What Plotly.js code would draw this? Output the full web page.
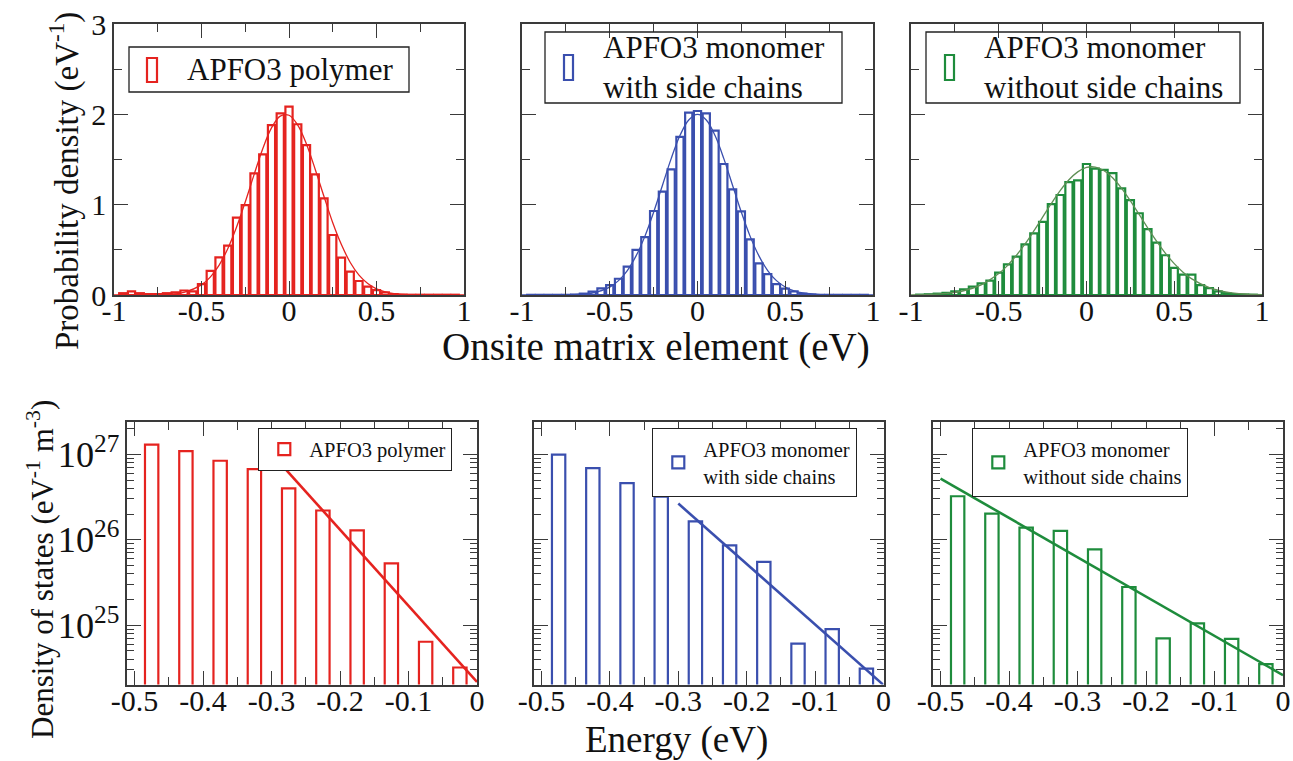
<!DOCTYPE html>
<html>
<head>
<meta charset="utf-8">
<script src="https://cdn.plot.ly/plotly-3.0.1.min.js"></script>
<style>html,body{margin:0;padding:0;background:#fff;}#chart{width:1293px;height:761px;}</style>
</head>
<body>
<div id="chart"></div>
<script>
// ---------- Data ----------
const binCenters = [-0.95,-0.9,-0.85,-0.8,-0.75,-0.7,-0.65,-0.6,-0.55,-0.5,-0.45,-0.4,-0.35,-0.3,-0.25,-0.2,-0.15,-0.1,-0.05,0,0.05,0.1,0.15,0.2,0.25,0.3,0.35,0.4,0.45,0.5,0.55,0.6,0.65,0.7,0.75,0.8,0.85,0.9,0.95];
const polymerHist = [0.02,0.04,0.02,0.01,0.01,0.02,0.03,0.05,0.04,0.12,0.266,0.417,0.546,0.856,0.996,1.347,1.557,1.88,2.01,2.085,1.89,1.66,1.336,1.07,0.664,0.413,0.258,0.155,0.092,0.055,0.03,0.01,0.005,0.003,0.003,0.003,0.003,0.003,0.003];
const withSideHist = [0.002,0.002,0.002,0.002,0.002,0.005,0.015,0.037,0.074,0.11,0.18,0.314,0.50,0.64,0.93,1.144,1.39,1.75,2.02,2.037,2.01,1.82,1.45,1.17,0.925,0.615,0.35,0.23,0.12,0.07,0.04,0.015,0.005,0.002,0.002,0.002,0.002,0.002,0.002];
const withoutSideHist = [0.004,0.008,0.015,0.025,0.04,0.063,0.092,0.129,0.159,0.247,0.34,0.424,0.561,0.683,0.81,1.007,1.107,1.25,1.27,1.45,1.40,1.385,1.35,1.18,1.05,0.905,0.73,0.58,0.44,0.30,0.225,0.225,0.11,0.075,0.04,0.02,0.01,0.005,0.003];

const curveX = [-1,-0.9,-0.8,-0.7,-0.6,-0.5,-0.45,-0.4,-0.35,-0.3,-0.25,-0.2,-0.15,-0.1,-0.05,0,0.05,0.1,0.15,0.2,0.25,0.3,0.35,0.4,0.45,0.5,0.55,0.6,0.7,0.8,0.9,1];
const polymerCurve = [0,0.0002,0.001,0.006,0.03,0.112,0.198,0.329,0.513,0.75,1.03,1.33,1.62,1.85,1.98,1.99,1.88,1.67,1.39,1.09,0.80,0.556,0.36,0.22,0.127,0.068,0.034,0.016,0.003,0,0,0];
const withSideCurve = [0,0,0.0007,0.0044,0.022,0.088,0.159,0.271,0.433,0.649,0.916,1.213,1.51,1.765,1.938,2.0,1.938,1.765,1.51,1.213,0.916,0.649,0.433,0.271,0.159,0.088,0.046,0.022,0.0044,0.0007,0,0];
const withoutSideCurve = [0.0016,0.0058,0.0176,0.047,0.113,0.237,0.327,0.437,0.565,0.709,0.861,1.014,1.155,1.275,1.363,1.412,1.416,1.376,1.295,1.181,1.043,0.892,0.739,0.593,0.461,0.347,0.253,0.179,0.081,0.032,0.011,0.0035];

const energyCenters = [-0.475,-0.425,-0.375,-0.325,-0.275,-0.225,-0.175,-0.125,-0.075,-0.025];
const polymerDos = [1.30e27,1.09e27,8.4e26,6.7e26,4.0e26,2.2e26,1.29e26,5.3e25,6.4e24,3.2e24];
const withSideDos = [9.9e26,6.9e26,4.6e26,3.2e26,1.64e26,8.6e25,5.5e25,6.1e24,9.0e24,3.1e24];
const withoutSideDos = [3.23e26,2.02e26,1.39e26,1.27e26,7.7e25,2.8e25,7.0e24,1.05e25,6.9e24,3.5e24];

const polymerFitX = [-0.3, 0];
const polymerFitY = [1.02e27, 2.17e24];
const withSideFitX = [-0.3, 0];
const withSideFitY = [2.65e26, 2.0e24];
const withoutSideFitX = [-0.5, 0];
const withoutSideFitY = [5.2e26, 2.6e24];

const seriesNames = ['APFO3 polymer', 'APFO3 monomer<br>with side chains', 'APFO3 monomer<br>without side chains'];
const topTickVals = [-1,-0.5,0,0.5,1];
const topTickText = ['-1','-0.5','0','0.5','1'];
const bottomTickVals = [-0.5,-0.4,-0.3,-0.2,-0.1,0];
const bottomTickText = ['-0.5','-0.4','-0.3','-0.2','-0.1','0'];

// ---------- Styling ----------
const RED = '#e5231f', BLUE = '#3a4fae', GREEN = '#1e8c3c';
const CURVE_GREEN = '#5f8f55';
const FONT = '"Liberation Serif", "Times New Roman", serif';
const W = 1293, H = 761;
const px = v => v / W, py = v => 1 - v / H;

const hists = [polymerHist, withSideHist, withoutSideHist];
const curves = [polymerCurve, withSideCurve, withoutSideCurve];
const dos = [polymerDos, withSideDos, withoutSideDos];
const fitsX = [polymerFitX, withSideFitX, withoutSideFitX];
const fitsY = [polymerFitY, withSideFitY, withoutSideFitY];
const colors = [RED, BLUE, GREEN];
const curveColors = [RED, BLUE, CURVE_GREEN];

const traces = [];
for (let i = 0; i < 3; i++) {
  const ax = i === 0 ? '' : String(i + 1);
  traces.push({
    type: 'bar', x: binCenters, y: hists[i], width: 0.041,
    xaxis: 'x' + ax, yaxis: 'y' + ax,
    marker: {color: 'rgba(255,255,255,0)', line: {color: colors[i], width: 2.2}},
    name: seriesNames[i], showlegend: false, hoverinfo: 'x+y'
  });
  traces.push({
    type: 'scatter', mode: 'lines', x: curveX, y: curves[i],
    xaxis: 'x' + ax, yaxis: 'y' + ax,
    line: {color: curveColors[i], width: 1.3, shape: 'spline', smoothing: 1},
    showlegend: false, hoverinfo: 'skip'
  });
}
for (let i = 0; i < 3; i++) {
  const ax = String(i + 4);
  traces.push({
    type: 'bar', x: energyCenters, y: dos[i], width: 0.0195,
    xaxis: 'x' + ax, yaxis: 'y' + ax,
    marker: {color: 'rgba(255,255,255,0)', line: {color: colors[i], width: 2.2}},
    name: seriesNames[i], legend: 'legend' + (i + 4),
    showlegend: true
  });
  traces.push({
    type: 'scatter', mode: 'lines', x: fitsX[i], y: fitsY[i],
    xaxis: 'x' + ax, yaxis: 'y' + ax,
    line: {color: colors[i], width: 2.6},
    showlegend: false, hoverinfo: 'skip'
  });
}

const axBase = {
  showline: true, linecolor: '#3a3a3a', linewidth: 1.5, mirror: 'ticks',
  ticks: 'inside', ticklen: 14, tickwidth: 1.3, tickcolor: '#3a3a3a',
  showgrid: false, zeroline: false, fixedrange: true,
  tickfont: {family: FONT, size: 30, color: '#111'}
};

const topX = [[114, 464], [522, 873], [911, 1262]];
const botX = [[127, 477], [534, 883.5], [933, 1283]];
const topY = [py(295), py(24)];
const botY = [py(684.5), py(422)];

const annBase = {xref: 'paper', yref: 'paper', showarrow: false, xanchor: 'center', yanchor: 'middle'};
const annotations = [
  Object.assign({}, annBase, {text: 'Probability density (eV<sup>-1</sup>)', x: px(64), y: py(181), textangle: -90, font: {family: FONT, size: 33, color: '#111'}}),
  Object.assign({}, annBase, {text: 'Onsite matrix element (eV)', x: px(656), y: py(347), font: {family: FONT, size: 39, color: '#111'}}),
  Object.assign({}, annBase, {text: 'Density of states (eV<sup>-1</sup> m<sup>-3</sup>)', x: px(40), y: py(570), textangle: -90, font: {family: FONT, size: 31, color: '#111'}}),
  Object.assign({}, annBase, {text: 'Energy (eV)', x: px(676), y: py(740), font: {family: FONT, size: 37, color: '#111'}})
];

// Top-row legend boxes (box, symbol, text) in page pixels
const topLegendBoxes = [[129, 47, 409, 92], [545, 32, 842, 103], [926, 32, 1240, 103]];
const topLegendSymbols = [[147, 58, 157, 82], [564, 55, 573, 80], [945, 55, 954, 80]];
const topLegendTextX = [185, 601, 982];
const topLegendTextY = [69, 68, 68];
const shapes = [];
for (let i = 0; i < 3; i++) {
  const b = topLegendBoxes[i], s = topLegendSymbols[i];
  shapes.push({type: 'rect', xref: 'paper', yref: 'paper', x0: px(b[0]), x1: px(b[2]), y0: py(b[3]), y1: py(b[1]),
    line: {color: '#222', width: 1.3}, fillcolor: 'rgba(255,255,255,0)'});
  shapes.push({type: 'rect', xref: 'paper', yref: 'paper', x0: px(s[0]), x1: px(s[2]), y0: py(s[3]), y1: py(s[1]),
    line: {color: colors[i], width: 2.2}, fillcolor: 'rgba(255,255,255,0)'});
  annotations.push(Object.assign({}, annBase, {text: seriesNames[i], x: px(topLegendTextX[i]), y: py(topLegendTextY[i]),
    xanchor: 'left', align: 'left', font: {family: FONT, size: 31, color: '#111'}}));
}

const layout = {
  width: W, height: H,
  margin: {l: 0, r: 0, t: 0, b: 0},
  paper_bgcolor: '#fff', plot_bgcolor: '#fff',
  font: {family: FONT, color: '#111'},
  barmode: 'overlay',
  annotations: annotations,
  shapes: shapes
};

for (let i = 0; i < 3; i++) {
  const ax = i === 0 ? '' : String(i + 1);
  layout['xaxis' + ax] = Object.assign({}, axBase, {
    domain: [px(topX[i][0]), px(topX[i][1])], range: [-1, 1],
    anchor: 'y' + ax, tickmode: 'array', tickvals: topTickVals, ticktext: topTickText,
    ticklabelstandoff: -12,
    minor: {ticks: 'inside', ticklen: 8, tickwidth: 1.2, tickcolor: '#3a3a3a', dtick: 0.25, tick0: 0, showgrid: false}
  });
  layout['yaxis' + ax] = Object.assign({}, axBase, {
    domain: topY, range: [0, 3], anchor: 'x' + ax,
    tickmode: 'linear', tick0: 0, dtick: 1, showticklabels: i === 0,
    minor: {ticks: 'inside', ticklen: 8, tickwidth: 1.2, tickcolor: '#3a3a3a', dtick: 0.5, tick0: 0, showgrid: false}
  });
}
for (let i = 0; i < 3; i++) {
  const ax = String(i + 4);
  layout['xaxis' + ax] = Object.assign({}, axBase, {
    domain: [px(botX[i][0]), px(botX[i][1])], range: [-0.511, 0],
    anchor: 'y' + ax, tickmode: 'array', tickvals: bottomTickVals, ticktext: bottomTickText,
    ticklabelstandoff: -11,
    minor: {ticks: 'inside', ticklen: 8, tickwidth: 1.2, tickcolor: '#3a3a3a', dtick: 0.05, tick0: 0, showgrid: false}
  });
  layout['yaxis' + ax] = Object.assign({}, axBase, {
    domain: botY, type: 'log', range: [24.306, 27.378], anchor: 'x' + ax,
    dtick: 1, exponentformat: 'power', showticklabels: i === 0,
    tickfont: {family: FONT, size: 29, color: '#111'},
    minor: {ticks: 'inside', ticklen: 7, tickwidth: 1.1, tickcolor: '#3a3a3a', dtick: 'D1', showgrid: false}
  });
}

const legendBase = {
  xanchor: 'left', yanchor: 'top', bordercolor: '#222', borderwidth: 1.3,
  xref: 'paper', yref: 'paper', itemclick: false, itemdoubleclick: false
};
const botLegFont = {family: FONT, size: 20.5, color: '#111'};
layout.legend4 = Object.assign({}, legendBase, {x: px(258), y: py(428), font: botLegFont, itemwidth: 40, bgcolor: '#fff'});
layout.legend5 = Object.assign({}, legendBase, {x: px(652), y: py(428), font: botLegFont, itemwidth: 40, bgcolor: '#fff'});
layout.legend6 = Object.assign({}, legendBase, {x: px(972), y: py(428), font: botLegFont, itemwidth: 40, bgcolor: '#fff'});

Plotly.newPlot('chart', traces, layout, {displayModeBar: false});
</script>
</body>
</html>
